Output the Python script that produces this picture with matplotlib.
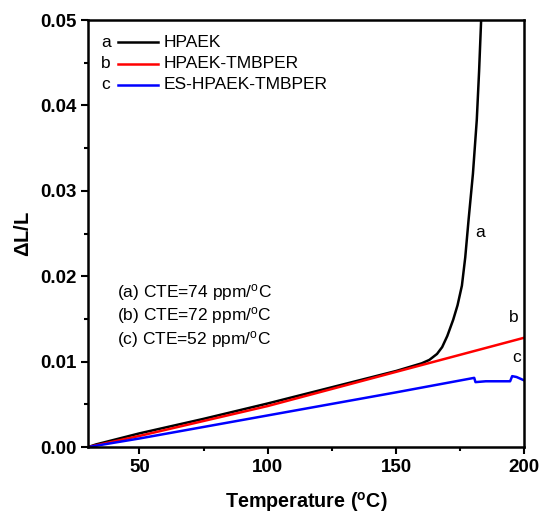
import matplotlib.pyplot as plt
from matplotlib.ticker import MultipleLocator

plt.rcParams['font.family'] = ['Liberation Sans', 'DejaVu Sans']
plt.rcParams['mathtext.default'] = 'regular'

# -- Curve data --
temp_a = [30, 33, 50, 75, 100, 125, 150, 160, 163, 166, 168, 170, 172.3, 174, 175.7,
          177, 178.3, 180, 181.5, 182.4, 183.2]
dl_a = [0, 0.0003, 0.0016, 0.0033, 0.0051, 0.0070, 0.0089, 0.0098, 0.0102, 0.0109,
        0.0117, 0.0130, 0.0149, 0.0166, 0.0189, 0.0222, 0.0266, 0.0320, 0.0383,
        0.0440, 0.0500]

temp_b = [30, 50, 100, 150, 175, 200]
dl_b = [0, 0.0013, 0.0048, 0.0088, 0.0108, 0.0128]

temp_c = [30, 50, 100, 150, 180.5, 181, 185, 190, 194.5, 195.3, 197, 200]
dl_c = [0, 0.0010, 0.0037, 0.0064, 0.0081, 0.0076, 0.0077, 0.0077, 0.0077, 0.0083, 0.0082, 0.0078]

letters = ['a', 'b', 'c']
names = ['HPAEK', 'HPAEK-TMBPER', 'ES-HPAEK-TMBPER']
colors = ['black', 'red', 'blue']
cte_lines = ['(a) CTE=74 ppm/$^{o}$C', '(b) CTE=72 ppm/$^{o}$C', '(c) CTE=52 ppm/$^{o}$C']

fig = plt.figure(figsize=(5.41, 5.15), dpi=100)
ax = fig.add_axes([0.163, 0.132, 0.806, 0.829])

for t, v, c in zip([temp_a, temp_b, temp_c], [dl_a, dl_b, dl_c], colors):
    ax.plot(t, v, color=c, lw=1.8)

# -- curve letters at the right --
ax.text(182.8, 0.0251, 'a', fontsize=12.5, ha='center', va='center')
ax.text(196.1, 0.0152, 'b', fontsize=12.5, ha='center', va='center')
ax.text(196.9, 0.0105, 'c', fontsize=12.5, ha='center', va='center')

# -- hand-built legend --
for i, (l, n, c) in enumerate(zip(letters, names, colors)):
    y = 0.948 - i * 0.05
    ax.text(0.030, y, l, transform=ax.transAxes, fontsize=12.5, va='center')
    ax.plot([0.068, 0.160], [y, y], transform=ax.transAxes, color=c, lw=1.8)
    ax.text(0.172, y, n, transform=ax.transAxes, fontsize=12.5, va='center')

# -- CTE notes --
for i, s in enumerate(cte_lines):
    ax.text(0.066, 0.363 - i * 0.056, s, transform=ax.transAxes, fontsize=12.5, va='center')

ax.set_xlim(30, 200)
ax.set_ylim(0, 0.05)
ax.xaxis.set_major_locator(MultipleLocator(50))
ax.xaxis.set_minor_locator(MultipleLocator(25))
ax.yaxis.set_major_locator(MultipleLocator(0.01))
ax.yaxis.set_minor_locator(MultipleLocator(0.005))
ax.yaxis.set_major_formatter(plt.FormatStrFormatter('%.2f'))
ax.tick_params(which='major', direction='out', length=5, width=1.5, labelsize=13.5)
ax.tick_params(which='minor', direction='out', length=3, width=1.5)
for lab in ax.get_xticklabels() + ax.get_yticklabels():
    lab.set_fontweight('bold')
for sp in ax.spines.values():
    sp.set_linewidth(1.8)

ax.set_xlabel('Temperature ($^{o}$C)', fontsize=14.2, fontweight='bold', labelpad=10)
ax.set_ylabel(r'$\Delta$L/L', fontsize=14.5, fontweight='bold', labelpad=5)

fig.savefig('out.png', dpi=100)
